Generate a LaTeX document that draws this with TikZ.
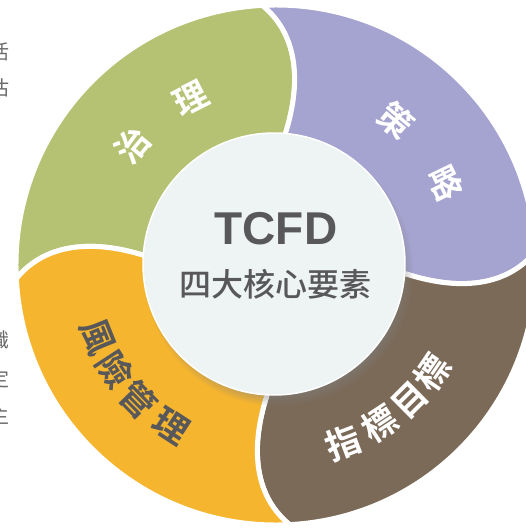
\documentclass[tikz,border=0pt]{standalone}
\usepackage{fontspec}
\setmainfont{Liberation Sans}
\newfontfamily\cjk{Noto Sans CJK TC}
\newfontfamily\cjkmed{Noto Sans CJK TC Medium}
\newfontfamily\cjkbold{Noto Sans CJK TC Bold}
\usetikzlibrary{shadows}
\definecolor{govgreen}{HTML}{B6C273}
\definecolor{stratlilac}{HTML}{A5A3CF}
\definecolor{metricbrown}{HTML}{7B6A58}
\definecolor{riskamber}{HTML}{F6B52E}
\definecolor{corebg}{HTML}{EEF3F3}
\definecolor{inkgrey}{HTML}{58585B}
\definecolor{edgegrey}{HTML}{6A6A6A}
\newcommand{\petal}[2]{% #1=fill #2=rotation of the segment
  \begin{scope}[rotate=#2]
    \fill[#1, draw=white, line width=5pt, line join=round]
      (131,0) .. controls (180,-12) and (230,-8) .. (7:260)
      arc[start angle=7, end angle=97, radius=260]
      .. controls (8,230) and (12,180) .. (0,131) -- (0,0) -- cycle;
  \end{scope}}

\begin{document}
\begin{tikzpicture}[
  x=1pt, y=1pt,
  gtitle/.style={font=\fontsize{46}{46}\bfseries\selectfont, text=inkgrey, inner sep=0pt},
  sub/.style={font=\cjkmed\fontsize{32}{32}\selectfont, text=inkgrey, inner sep=0pt},
  petallabel/.style={font=\cjkbold\fontsize{34}{34}\selectfont, inner sep=0pt},
  edgetext/.style={font=\cjk\fontsize{20}{20}\selectfont, text=edgegrey, inner sep=0pt},
]
\useasboundingbox (-276,-263) rectangle (250,265);

% ---------- CUT-OFF TEXT AT THE LEFT EDGE ----------
\foreach \ch/\yy [count=\i] in {活/52, 估/88, 識/340, 定/379, 主/416}
  \node[edgetext] (edge-\i) at (-276,265-\yy) {\ch};

% ---------- FOUR SEGMENTS ----------
\petal{govgreen}{86}
\petal{stratlilac}{-4}
\petal{metricbrown}{-94}
\petal{riskamber}{176}

% ---------- CORE ----------
\node[circle, minimum size=262pt, fill=corebg, draw=white, line width=1.5pt,
  circular drop shadow={shadow xshift=4pt, shadow yshift=-7pt, shadow scale=1.03, opacity=0.8}]
  (core) at (-2,1) {};
\node[gtitle] (tcfd) at (0,36) {TCFD};
\node[sub] (elements) at (0,-19) {四大核心要素};

% ---------- SEGMENT LABELS ----------
\foreach \ch/\ang [count=\i] in {治/140, 理/117}
  \node[petallabel, text=white, rotate=\ang-90] (gov-\i) at (\ang:187) {\ch};
\foreach \ch/\ang [count=\i] in {策/50.2, 略/25.9}
  \node[petallabel, text=white, rotate=\ang-90] (strat-\i) at (\ang:188) {\ch};
\foreach \ch/\ang [count=\i] in {風/201.9, 險/213.1, 管/224.4, 理/237}
  \node[petallabel, font=\cjkbold\fontsize{35}{35}\selectfont, text=inkgrey, rotate=\ang+90] (risk-\i) at (\ang:192) {\ch};
\foreach \ch/\ang [count=\i] in {指/-69.3, 標/-56.7, 目/-45.2, 標/-34.4}
  \node[petallabel, font=\cjkbold\fontsize{35}{35}\selectfont, text=white, rotate=\ang+90] (metric-\i) at (\ang:190) {\ch};

\end{tikzpicture}
\end{document}
